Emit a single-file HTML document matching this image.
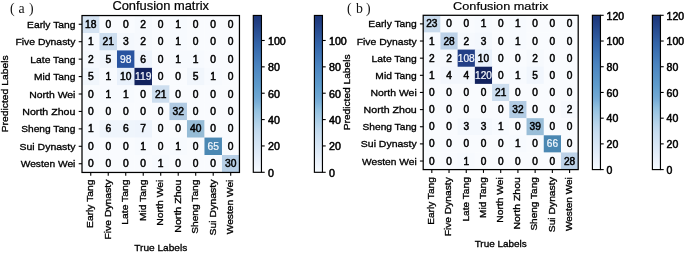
<!DOCTYPE html>
<html><head><meta charset="utf-8"><style>
html,body{margin:0;padding:0;background:#fff;width:685px;height:253px;overflow:hidden}
svg{display:block;filter:blur(0.25px)}
</style></head><body>
<svg width="685" height="253" viewBox="0 0 685 253" font-family="'Liberation Sans', sans-serif">
<defs>
<linearGradient id="cbg" x1="0" y1="0" x2="0" y2="1"><stop offset="0.0000" stop-color="#1d3679"/><stop offset="0.0250" stop-color="#1f3b7e"/><stop offset="0.0500" stop-color="#224084"/><stop offset="0.0750" stop-color="#25478b"/><stop offset="0.1000" stop-color="#284e92"/><stop offset="0.1250" stop-color="#2c5498"/><stop offset="0.1500" stop-color="#2f5b9f"/><stop offset="0.1750" stop-color="#3262a6"/><stop offset="0.2000" stop-color="#3568ab"/><stop offset="0.2250" stop-color="#3a6eb0"/><stop offset="0.2500" stop-color="#3e74b4"/><stop offset="0.2750" stop-color="#4279b8"/><stop offset="0.3000" stop-color="#477fbd"/><stop offset="0.3250" stop-color="#4b85c0"/><stop offset="0.3500" stop-color="#4f89c3"/><stop offset="0.3750" stop-color="#538ec5"/><stop offset="0.4000" stop-color="#5792c7"/><stop offset="0.4250" stop-color="#5a97c9"/><stop offset="0.4500" stop-color="#5e9bcc"/><stop offset="0.4750" stop-color="#64a0ce"/><stop offset="0.5000" stop-color="#6aa4d1"/><stop offset="0.5250" stop-color="#70a8d4"/><stop offset="0.5500" stop-color="#79aed7"/><stop offset="0.5750" stop-color="#85b7db"/><stop offset="0.6000" stop-color="#91c0df"/><stop offset="0.6250" stop-color="#9bc5e2"/><stop offset="0.6500" stop-color="#a4cae5"/><stop offset="0.6750" stop-color="#adcfe7"/><stop offset="0.7000" stop-color="#b6d4ea"/><stop offset="0.7250" stop-color="#bfd8ed"/><stop offset="0.7500" stop-color="#c5dcef"/><stop offset="0.7750" stop-color="#cbdff1"/><stop offset="0.8000" stop-color="#d0e2f3"/><stop offset="0.8250" stop-color="#d5e5f4"/><stop offset="0.8500" stop-color="#dae8f6"/><stop offset="0.8750" stop-color="#dfebf8"/><stop offset="0.9000" stop-color="#e4eef9"/><stop offset="0.9250" stop-color="#e9f1fb"/><stop offset="0.9500" stop-color="#eef4fc"/><stop offset="0.9750" stop-color="#f2f8fe"/><stop offset="1.0000" stop-color="#f7fbff"/></linearGradient>
</defs>
<rect width="685" height="253" fill="#fff"/>
<rect x="82.00" y="15.55" width="17.79" height="17.73" fill="#d5e3f2"/>
<rect x="99.49" y="15.55" width="17.79" height="17.73" fill="#f9fbfe"/>
<rect x="116.99" y="15.55" width="17.79" height="17.73" fill="#f9fbfe"/>
<rect x="134.48" y="15.55" width="17.79" height="17.73" fill="#f6f9fd"/>
<rect x="151.98" y="15.55" width="17.79" height="17.73" fill="#f9fbfe"/>
<rect x="169.47" y="15.55" width="17.79" height="17.73" fill="#f7fafe"/>
<rect x="186.97" y="15.55" width="17.79" height="17.73" fill="#f9fbfe"/>
<rect x="204.46" y="15.55" width="17.79" height="17.73" fill="#f9fbfe"/>
<rect x="221.96" y="15.55" width="17.79" height="17.73" fill="#f9fbfe"/>
<rect x="82.00" y="32.98" width="17.79" height="17.73" fill="#f7fafe"/>
<rect x="99.49" y="32.98" width="17.79" height="17.73" fill="#cddeef"/>
<rect x="116.99" y="32.98" width="17.79" height="17.73" fill="#f4f8fd"/>
<rect x="134.48" y="32.98" width="17.79" height="17.73" fill="#f6f9fd"/>
<rect x="151.98" y="32.98" width="17.79" height="17.73" fill="#f9fbfe"/>
<rect x="169.47" y="32.98" width="17.79" height="17.73" fill="#f7fafe"/>
<rect x="186.97" y="32.98" width="17.79" height="17.73" fill="#f9fbfe"/>
<rect x="204.46" y="32.98" width="17.79" height="17.73" fill="#f9fbfe"/>
<rect x="221.96" y="32.98" width="17.79" height="17.73" fill="#f9fbfe"/>
<rect x="82.00" y="50.42" width="17.79" height="17.73" fill="#f6f9fd"/>
<rect x="99.49" y="50.42" width="17.79" height="17.73" fill="#f1f6fc"/>
<rect x="116.99" y="50.42" width="17.79" height="17.73" fill="#2954a0"/>
<rect x="134.48" y="50.42" width="17.79" height="17.73" fill="#eff5fc"/>
<rect x="151.98" y="50.42" width="17.79" height="17.73" fill="#f9fbfe"/>
<rect x="169.47" y="50.42" width="17.79" height="17.73" fill="#f7fafe"/>
<rect x="186.97" y="50.42" width="17.79" height="17.73" fill="#f7fafe"/>
<rect x="204.46" y="50.42" width="17.79" height="17.73" fill="#f9fbfe"/>
<rect x="221.96" y="50.42" width="17.79" height="17.73" fill="#f9fbfe"/>
<rect x="82.00" y="67.85" width="17.79" height="17.73" fill="#f1f6fc"/>
<rect x="99.49" y="67.85" width="17.79" height="17.73" fill="#f7fafe"/>
<rect x="116.99" y="67.85" width="17.79" height="17.73" fill="#e9f1fb"/>
<rect x="134.48" y="67.85" width="17.79" height="17.73" fill="#13235e"/>
<rect x="151.98" y="67.85" width="17.79" height="17.73" fill="#f9fbfe"/>
<rect x="169.47" y="67.85" width="17.79" height="17.73" fill="#f9fbfe"/>
<rect x="186.97" y="67.85" width="17.79" height="17.73" fill="#f1f6fc"/>
<rect x="204.46" y="67.85" width="17.79" height="17.73" fill="#f7fafe"/>
<rect x="221.96" y="67.85" width="17.79" height="17.73" fill="#f9fbfe"/>
<rect x="82.00" y="85.28" width="17.79" height="17.73" fill="#f9fbfe"/>
<rect x="99.49" y="85.28" width="17.79" height="17.73" fill="#f7fafe"/>
<rect x="116.99" y="85.28" width="17.79" height="17.73" fill="#f7fafe"/>
<rect x="134.48" y="85.28" width="17.79" height="17.73" fill="#f9fbfe"/>
<rect x="151.98" y="85.28" width="17.79" height="17.73" fill="#cddeef"/>
<rect x="169.47" y="85.28" width="17.79" height="17.73" fill="#f9fbfe"/>
<rect x="186.97" y="85.28" width="17.79" height="17.73" fill="#f9fbfe"/>
<rect x="204.46" y="85.28" width="17.79" height="17.73" fill="#f9fbfe"/>
<rect x="221.96" y="85.28" width="17.79" height="17.73" fill="#f9fbfe"/>
<rect x="82.00" y="102.72" width="17.79" height="17.73" fill="#f9fbfe"/>
<rect x="99.49" y="102.72" width="17.79" height="17.73" fill="#f9fbfe"/>
<rect x="116.99" y="102.72" width="17.79" height="17.73" fill="#f9fbfe"/>
<rect x="134.48" y="102.72" width="17.79" height="17.73" fill="#f9fbfe"/>
<rect x="151.98" y="102.72" width="17.79" height="17.73" fill="#f9fbfe"/>
<rect x="169.47" y="102.72" width="17.79" height="17.73" fill="#b1cbe3"/>
<rect x="186.97" y="102.72" width="17.79" height="17.73" fill="#f9fbfe"/>
<rect x="204.46" y="102.72" width="17.79" height="17.73" fill="#f9fbfe"/>
<rect x="221.96" y="102.72" width="17.79" height="17.73" fill="#f9fbfe"/>
<rect x="82.00" y="120.15" width="17.79" height="17.73" fill="#f7fafe"/>
<rect x="99.49" y="120.15" width="17.79" height="17.73" fill="#eff5fc"/>
<rect x="116.99" y="120.15" width="17.79" height="17.73" fill="#eff5fc"/>
<rect x="134.48" y="120.15" width="17.79" height="17.73" fill="#eef4fc"/>
<rect x="151.98" y="120.15" width="17.79" height="17.73" fill="#f9fbfe"/>
<rect x="169.47" y="120.15" width="17.79" height="17.73" fill="#f9fbfe"/>
<rect x="186.97" y="120.15" width="17.79" height="17.73" fill="#96bcd6"/>
<rect x="204.46" y="120.15" width="17.79" height="17.73" fill="#f9fbfe"/>
<rect x="221.96" y="120.15" width="17.79" height="17.73" fill="#f9fbfe"/>
<rect x="82.00" y="137.58" width="17.79" height="17.73" fill="#f9fbfe"/>
<rect x="99.49" y="137.58" width="17.79" height="17.73" fill="#f9fbfe"/>
<rect x="116.99" y="137.58" width="17.79" height="17.73" fill="#f9fbfe"/>
<rect x="134.48" y="137.58" width="17.79" height="17.73" fill="#f7fafe"/>
<rect x="151.98" y="137.58" width="17.79" height="17.73" fill="#f9fbfe"/>
<rect x="169.47" y="137.58" width="17.79" height="17.73" fill="#f7fafe"/>
<rect x="186.97" y="137.58" width="17.79" height="17.73" fill="#f9fbfe"/>
<rect x="204.46" y="137.58" width="17.79" height="17.73" fill="#4b88b3"/>
<rect x="221.96" y="137.58" width="17.79" height="17.73" fill="#f9fbfe"/>
<rect x="82.00" y="155.02" width="17.79" height="17.73" fill="#f9fbfe"/>
<rect x="99.49" y="155.02" width="17.79" height="17.73" fill="#f9fbfe"/>
<rect x="116.99" y="155.02" width="17.79" height="17.73" fill="#f9fbfe"/>
<rect x="134.48" y="155.02" width="17.79" height="17.73" fill="#f9fbfe"/>
<rect x="151.98" y="155.02" width="17.79" height="17.73" fill="#f7fafe"/>
<rect x="169.47" y="155.02" width="17.79" height="17.73" fill="#f9fbfe"/>
<rect x="186.97" y="155.02" width="17.79" height="17.73" fill="#f9fbfe"/>
<rect x="204.46" y="155.02" width="17.79" height="17.73" fill="#f9fbfe"/>
<rect x="221.96" y="155.02" width="17.79" height="17.73" fill="#b7cfe6"/>
<text transform="translate(90.75,27.87)" font-size="10.29" text-anchor="middle" fill="#000" stroke="#000" stroke-width="0.500" >18</text>
<text transform="translate(108.24,27.87)" font-size="10.29" text-anchor="middle" fill="#000" stroke="#000" stroke-width="0.500" >0</text>
<text transform="translate(125.74,27.87)" font-size="10.29" text-anchor="middle" fill="#000" stroke="#000" stroke-width="0.500" >0</text>
<text transform="translate(143.23,27.87)" font-size="10.29" text-anchor="middle" fill="#000" stroke="#000" stroke-width="0.500" >2</text>
<text transform="translate(160.72,27.87)" font-size="10.29" text-anchor="middle" fill="#000" stroke="#000" stroke-width="0.500" >0</text>
<text transform="translate(178.22,27.87)" font-size="10.29" text-anchor="middle" fill="#000" stroke="#000" stroke-width="0.500" >1</text>
<text transform="translate(195.71,27.87)" font-size="10.29" text-anchor="middle" fill="#000" stroke="#000" stroke-width="0.500" >0</text>
<text transform="translate(213.21,27.87)" font-size="10.29" text-anchor="middle" fill="#000" stroke="#000" stroke-width="0.500" >0</text>
<text transform="translate(230.70,27.87)" font-size="10.29" text-anchor="middle" fill="#000" stroke="#000" stroke-width="0.500" >0</text>
<text transform="translate(90.75,45.30)" font-size="10.29" text-anchor="middle" fill="#000" stroke="#000" stroke-width="0.500" >1</text>
<text transform="translate(108.24,45.30)" font-size="10.29" text-anchor="middle" fill="#000" stroke="#000" stroke-width="0.500" >21</text>
<text transform="translate(125.74,45.30)" font-size="10.29" text-anchor="middle" fill="#000" stroke="#000" stroke-width="0.500" >3</text>
<text transform="translate(143.23,45.30)" font-size="10.29" text-anchor="middle" fill="#000" stroke="#000" stroke-width="0.500" >2</text>
<text transform="translate(160.72,45.30)" font-size="10.29" text-anchor="middle" fill="#000" stroke="#000" stroke-width="0.500" >0</text>
<text transform="translate(178.22,45.30)" font-size="10.29" text-anchor="middle" fill="#000" stroke="#000" stroke-width="0.500" >1</text>
<text transform="translate(195.71,45.30)" font-size="10.29" text-anchor="middle" fill="#000" stroke="#000" stroke-width="0.500" >0</text>
<text transform="translate(213.21,45.30)" font-size="10.29" text-anchor="middle" fill="#000" stroke="#000" stroke-width="0.500" >0</text>
<text transform="translate(230.70,45.30)" font-size="10.29" text-anchor="middle" fill="#000" stroke="#000" stroke-width="0.500" >0</text>
<text transform="translate(90.75,62.73)" font-size="10.29" text-anchor="middle" fill="#000" stroke="#000" stroke-width="0.500" >2</text>
<text transform="translate(108.24,62.73)" font-size="10.29" text-anchor="middle" fill="#000" stroke="#000" stroke-width="0.500" >5</text>
<text transform="translate(125.74,62.73)" font-size="10.29" text-anchor="middle" fill="#f4f8fd" stroke="#f4f8fd" stroke-width="0.220" >98</text>
<text transform="translate(143.23,62.73)" font-size="10.29" text-anchor="middle" fill="#000" stroke="#000" stroke-width="0.500" >6</text>
<text transform="translate(160.72,62.73)" font-size="10.29" text-anchor="middle" fill="#000" stroke="#000" stroke-width="0.500" >0</text>
<text transform="translate(178.22,62.73)" font-size="10.29" text-anchor="middle" fill="#000" stroke="#000" stroke-width="0.500" >1</text>
<text transform="translate(195.71,62.73)" font-size="10.29" text-anchor="middle" fill="#000" stroke="#000" stroke-width="0.500" >1</text>
<text transform="translate(213.21,62.73)" font-size="10.29" text-anchor="middle" fill="#000" stroke="#000" stroke-width="0.500" >0</text>
<text transform="translate(230.70,62.73)" font-size="10.29" text-anchor="middle" fill="#000" stroke="#000" stroke-width="0.500" >0</text>
<text transform="translate(90.75,80.17)" font-size="10.29" text-anchor="middle" fill="#000" stroke="#000" stroke-width="0.500" >5</text>
<text transform="translate(108.24,80.17)" font-size="10.29" text-anchor="middle" fill="#000" stroke="#000" stroke-width="0.500" >1</text>
<text transform="translate(125.74,80.17)" font-size="10.29" text-anchor="middle" fill="#000" stroke="#000" stroke-width="0.500" >10</text>
<text transform="translate(143.23,80.17)" font-size="10.29" text-anchor="middle" fill="#f4f8fd" stroke="#f4f8fd" stroke-width="0.220" >119</text>
<text transform="translate(160.72,80.17)" font-size="10.29" text-anchor="middle" fill="#000" stroke="#000" stroke-width="0.500" >0</text>
<text transform="translate(178.22,80.17)" font-size="10.29" text-anchor="middle" fill="#000" stroke="#000" stroke-width="0.500" >0</text>
<text transform="translate(195.71,80.17)" font-size="10.29" text-anchor="middle" fill="#000" stroke="#000" stroke-width="0.500" >5</text>
<text transform="translate(213.21,80.17)" font-size="10.29" text-anchor="middle" fill="#000" stroke="#000" stroke-width="0.500" >1</text>
<text transform="translate(230.70,80.17)" font-size="10.29" text-anchor="middle" fill="#000" stroke="#000" stroke-width="0.500" >0</text>
<text transform="translate(90.75,97.60)" font-size="10.29" text-anchor="middle" fill="#000" stroke="#000" stroke-width="0.500" >0</text>
<text transform="translate(108.24,97.60)" font-size="10.29" text-anchor="middle" fill="#000" stroke="#000" stroke-width="0.500" >1</text>
<text transform="translate(125.74,97.60)" font-size="10.29" text-anchor="middle" fill="#000" stroke="#000" stroke-width="0.500" >1</text>
<text transform="translate(143.23,97.60)" font-size="10.29" text-anchor="middle" fill="#000" stroke="#000" stroke-width="0.500" >0</text>
<text transform="translate(160.72,97.60)" font-size="10.29" text-anchor="middle" fill="#000" stroke="#000" stroke-width="0.500" >21</text>
<text transform="translate(178.22,97.60)" font-size="10.29" text-anchor="middle" fill="#000" stroke="#000" stroke-width="0.500" >0</text>
<text transform="translate(195.71,97.60)" font-size="10.29" text-anchor="middle" fill="#000" stroke="#000" stroke-width="0.500" >0</text>
<text transform="translate(213.21,97.60)" font-size="10.29" text-anchor="middle" fill="#000" stroke="#000" stroke-width="0.500" >0</text>
<text transform="translate(230.70,97.60)" font-size="10.29" text-anchor="middle" fill="#000" stroke="#000" stroke-width="0.500" >0</text>
<text transform="translate(90.75,115.03)" font-size="10.29" text-anchor="middle" fill="#000" stroke="#000" stroke-width="0.500" >0</text>
<text transform="translate(108.24,115.03)" font-size="10.29" text-anchor="middle" fill="#000" stroke="#000" stroke-width="0.500" >0</text>
<text transform="translate(125.74,115.03)" font-size="10.29" text-anchor="middle" fill="#000" stroke="#000" stroke-width="0.500" >0</text>
<text transform="translate(143.23,115.03)" font-size="10.29" text-anchor="middle" fill="#000" stroke="#000" stroke-width="0.500" >0</text>
<text transform="translate(160.72,115.03)" font-size="10.29" text-anchor="middle" fill="#000" stroke="#000" stroke-width="0.500" >0</text>
<text transform="translate(178.22,115.03)" font-size="10.29" text-anchor="middle" fill="#000" stroke="#000" stroke-width="0.500" >32</text>
<text transform="translate(195.71,115.03)" font-size="10.29" text-anchor="middle" fill="#000" stroke="#000" stroke-width="0.500" >0</text>
<text transform="translate(213.21,115.03)" font-size="10.29" text-anchor="middle" fill="#000" stroke="#000" stroke-width="0.500" >0</text>
<text transform="translate(230.70,115.03)" font-size="10.29" text-anchor="middle" fill="#000" stroke="#000" stroke-width="0.500" >0</text>
<text transform="translate(90.75,132.47)" font-size="10.29" text-anchor="middle" fill="#000" stroke="#000" stroke-width="0.500" >1</text>
<text transform="translate(108.24,132.47)" font-size="10.29" text-anchor="middle" fill="#000" stroke="#000" stroke-width="0.500" >6</text>
<text transform="translate(125.74,132.47)" font-size="10.29" text-anchor="middle" fill="#000" stroke="#000" stroke-width="0.500" >6</text>
<text transform="translate(143.23,132.47)" font-size="10.29" text-anchor="middle" fill="#000" stroke="#000" stroke-width="0.500" >7</text>
<text transform="translate(160.72,132.47)" font-size="10.29" text-anchor="middle" fill="#000" stroke="#000" stroke-width="0.500" >0</text>
<text transform="translate(178.22,132.47)" font-size="10.29" text-anchor="middle" fill="#000" stroke="#000" stroke-width="0.500" >0</text>
<text transform="translate(195.71,132.47)" font-size="10.29" text-anchor="middle" fill="#000" stroke="#000" stroke-width="0.500" >40</text>
<text transform="translate(213.21,132.47)" font-size="10.29" text-anchor="middle" fill="#000" stroke="#000" stroke-width="0.500" >0</text>
<text transform="translate(230.70,132.47)" font-size="10.29" text-anchor="middle" fill="#000" stroke="#000" stroke-width="0.500" >0</text>
<text transform="translate(90.75,149.90)" font-size="10.29" text-anchor="middle" fill="#000" stroke="#000" stroke-width="0.500" >0</text>
<text transform="translate(108.24,149.90)" font-size="10.29" text-anchor="middle" fill="#000" stroke="#000" stroke-width="0.500" >0</text>
<text transform="translate(125.74,149.90)" font-size="10.29" text-anchor="middle" fill="#000" stroke="#000" stroke-width="0.500" >0</text>
<text transform="translate(143.23,149.90)" font-size="10.29" text-anchor="middle" fill="#000" stroke="#000" stroke-width="0.500" >1</text>
<text transform="translate(160.72,149.90)" font-size="10.29" text-anchor="middle" fill="#000" stroke="#000" stroke-width="0.500" >0</text>
<text transform="translate(178.22,149.90)" font-size="10.29" text-anchor="middle" fill="#000" stroke="#000" stroke-width="0.500" >1</text>
<text transform="translate(195.71,149.90)" font-size="10.29" text-anchor="middle" fill="#000" stroke="#000" stroke-width="0.500" >0</text>
<text transform="translate(213.21,149.90)" font-size="10.29" text-anchor="middle" fill="#f4f8fd" stroke="#f4f8fd" stroke-width="0.220" >65</text>
<text transform="translate(230.70,149.90)" font-size="10.29" text-anchor="middle" fill="#000" stroke="#000" stroke-width="0.500" >0</text>
<text transform="translate(90.75,167.33)" font-size="10.29" text-anchor="middle" fill="#000" stroke="#000" stroke-width="0.500" >0</text>
<text transform="translate(108.24,167.33)" font-size="10.29" text-anchor="middle" fill="#000" stroke="#000" stroke-width="0.500" >0</text>
<text transform="translate(125.74,167.33)" font-size="10.29" text-anchor="middle" fill="#000" stroke="#000" stroke-width="0.500" >0</text>
<text transform="translate(143.23,167.33)" font-size="10.29" text-anchor="middle" fill="#000" stroke="#000" stroke-width="0.500" >0</text>
<text transform="translate(160.72,167.33)" font-size="10.29" text-anchor="middle" fill="#000" stroke="#000" stroke-width="0.500" >1</text>
<text transform="translate(178.22,167.33)" font-size="10.29" text-anchor="middle" fill="#000" stroke="#000" stroke-width="0.500" >0</text>
<text transform="translate(195.71,167.33)" font-size="10.29" text-anchor="middle" fill="#000" stroke="#000" stroke-width="0.500" >0</text>
<text transform="translate(213.21,167.33)" font-size="10.29" text-anchor="middle" fill="#000" stroke="#000" stroke-width="0.500" >0</text>
<text transform="translate(230.70,167.33)" font-size="10.29" text-anchor="middle" fill="#000" stroke="#000" stroke-width="0.500" >30</text>
<rect x="82.00" y="15.55" width="157.45" height="156.90" fill="none" stroke="#000" stroke-width="1.25"/>
<line x1="78.70" y1="24.27" x2="82.00" y2="24.27" stroke="#000" stroke-width="1.1"/>
<line x1="90.75" y1="172.45" x2="90.75" y2="175.75" stroke="#000" stroke-width="1.1"/>
<line x1="78.70" y1="41.70" x2="82.00" y2="41.70" stroke="#000" stroke-width="1.1"/>
<line x1="108.24" y1="172.45" x2="108.24" y2="175.75" stroke="#000" stroke-width="1.1"/>
<line x1="78.70" y1="59.13" x2="82.00" y2="59.13" stroke="#000" stroke-width="1.1"/>
<line x1="125.74" y1="172.45" x2="125.74" y2="175.75" stroke="#000" stroke-width="1.1"/>
<line x1="78.70" y1="76.57" x2="82.00" y2="76.57" stroke="#000" stroke-width="1.1"/>
<line x1="143.23" y1="172.45" x2="143.23" y2="175.75" stroke="#000" stroke-width="1.1"/>
<line x1="78.70" y1="94.00" x2="82.00" y2="94.00" stroke="#000" stroke-width="1.1"/>
<line x1="160.72" y1="172.45" x2="160.72" y2="175.75" stroke="#000" stroke-width="1.1"/>
<line x1="78.70" y1="111.43" x2="82.00" y2="111.43" stroke="#000" stroke-width="1.1"/>
<line x1="178.22" y1="172.45" x2="178.22" y2="175.75" stroke="#000" stroke-width="1.1"/>
<line x1="78.70" y1="128.87" x2="82.00" y2="128.87" stroke="#000" stroke-width="1.1"/>
<line x1="195.71" y1="172.45" x2="195.71" y2="175.75" stroke="#000" stroke-width="1.1"/>
<line x1="78.70" y1="146.30" x2="82.00" y2="146.30" stroke="#000" stroke-width="1.1"/>
<line x1="213.21" y1="172.45" x2="213.21" y2="175.75" stroke="#000" stroke-width="1.1"/>
<line x1="78.70" y1="163.73" x2="82.00" y2="163.73" stroke="#000" stroke-width="1.1"/>
<line x1="230.70" y1="172.45" x2="230.70" y2="175.75" stroke="#000" stroke-width="1.1"/>
<text transform="translate(75.40,27.82)" font-size="9.91" text-anchor="end" fill="#000" stroke="#000" stroke-width="0.320"  textLength="48.34" lengthAdjust="spacingAndGlyphs">Early Tang</text>
<text transform="translate(75.40,45.25)" font-size="9.91" text-anchor="end" fill="#000" stroke="#000" stroke-width="0.320"  textLength="60.01" lengthAdjust="spacingAndGlyphs">Five Dynasty</text>
<text transform="translate(75.40,62.68)" font-size="9.91" text-anchor="end" fill="#000" stroke="#000" stroke-width="0.320"  textLength="45.08" lengthAdjust="spacingAndGlyphs">Late Tang</text>
<text transform="translate(75.40,80.12)" font-size="9.91" text-anchor="end" fill="#000" stroke="#000" stroke-width="0.320"  textLength="41.33" lengthAdjust="spacingAndGlyphs">Mid Tang</text>
<text transform="translate(75.40,97.55)" font-size="9.91" text-anchor="end" fill="#000" stroke="#000" stroke-width="0.320"  textLength="46.17" lengthAdjust="spacingAndGlyphs">North Wei</text>
<text transform="translate(75.40,114.98)" font-size="9.91" text-anchor="end" fill="#000" stroke="#000" stroke-width="0.320"  textLength="53.10" lengthAdjust="spacingAndGlyphs">North Zhou</text>
<text transform="translate(75.40,132.42)" font-size="9.91" text-anchor="end" fill="#000" stroke="#000" stroke-width="0.320"  textLength="54.20" lengthAdjust="spacingAndGlyphs">Sheng Tang</text>
<text transform="translate(75.40,149.85)" font-size="9.91" text-anchor="end" fill="#000" stroke="#000" stroke-width="0.320"  textLength="55.89" lengthAdjust="spacingAndGlyphs">Sui Dynasty</text>
<text transform="translate(75.40,167.28)" font-size="9.91" text-anchor="end" fill="#000" stroke="#000" stroke-width="0.320"  textLength="54.69" lengthAdjust="spacingAndGlyphs">Westen Wei</text>
<text transform="translate(93.05,179.60) rotate(-90)" font-size="9.91" text-anchor="end" fill="#000" stroke="#000" stroke-width="0.320"  textLength="48.34" lengthAdjust="spacingAndGlyphs">Early Tang</text>
<text transform="translate(110.54,179.60) rotate(-90)" font-size="9.91" text-anchor="end" fill="#000" stroke="#000" stroke-width="0.320"  textLength="60.01" lengthAdjust="spacingAndGlyphs">Five Dynasty</text>
<text transform="translate(128.04,179.60) rotate(-90)" font-size="9.91" text-anchor="end" fill="#000" stroke="#000" stroke-width="0.320"  textLength="45.08" lengthAdjust="spacingAndGlyphs">Late Tang</text>
<text transform="translate(145.53,179.60) rotate(-90)" font-size="9.91" text-anchor="end" fill="#000" stroke="#000" stroke-width="0.320"  textLength="41.33" lengthAdjust="spacingAndGlyphs">Mid Tang</text>
<text transform="translate(163.03,179.60) rotate(-90)" font-size="9.91" text-anchor="end" fill="#000" stroke="#000" stroke-width="0.320"  textLength="46.17" lengthAdjust="spacingAndGlyphs">North Wei</text>
<text transform="translate(180.52,179.60) rotate(-90)" font-size="9.91" text-anchor="end" fill="#000" stroke="#000" stroke-width="0.320"  textLength="53.10" lengthAdjust="spacingAndGlyphs">North Zhou</text>
<text transform="translate(198.01,179.60) rotate(-90)" font-size="9.91" text-anchor="end" fill="#000" stroke="#000" stroke-width="0.320"  textLength="54.20" lengthAdjust="spacingAndGlyphs">Sheng Tang</text>
<text transform="translate(215.51,179.60) rotate(-90)" font-size="9.91" text-anchor="end" fill="#000" stroke="#000" stroke-width="0.320"  textLength="55.89" lengthAdjust="spacingAndGlyphs">Sui Dynasty</text>
<text transform="translate(233.00,179.60) rotate(-90)" font-size="9.91" text-anchor="end" fill="#000" stroke="#000" stroke-width="0.320"  textLength="54.69" lengthAdjust="spacingAndGlyphs">Westen Wei</text>
<text transform="translate(160.72,9.90)" font-size="11.98" text-anchor="middle" fill="#000" stroke="#000" stroke-width="0.200"  textLength="96.64" lengthAdjust="spacingAndGlyphs">Confusion matrix</text>
<text transform="translate(160.72,250.60)" font-size="9.91" text-anchor="middle" fill="#000" stroke="#000" stroke-width="0.320"  textLength="52.93" lengthAdjust="spacingAndGlyphs">True Labels</text>
<text transform="translate(8.40,93.90) rotate(-90)" font-size="9.91" text-anchor="middle" fill="#000" stroke="#000" stroke-width="0.320"  textLength="76.96" lengthAdjust="spacingAndGlyphs">Predicted Labels</text>
<text x="9.90" y="13.00" font-family="'Liberation Serif', serif" font-size="13.80" fill="#111">(</text>
<text x="18.50" y="13.00" font-family="'Liberation Serif', serif" font-size="13.80" fill="#111">a</text>
<text x="28.90" y="13.00" font-family="'Liberation Serif', serif" font-size="13.80" fill="#111">)</text>
<rect x="253.30" y="15.45" width="8.15" height="156.85" fill="url(#cbg)" stroke="#000" stroke-width="1.15"/>
<line x1="261.45" y1="172.30" x2="264.70" y2="172.30" stroke="#000" stroke-width="1.1"/>
<text transform="translate(267.95,176.60)" font-size="10.29" text-anchor="start" fill="#000" stroke="#000" stroke-width="0.500"  textLength="5.95" lengthAdjust="spacingAndGlyphs">0</text>
<line x1="261.45" y1="145.94" x2="264.70" y2="145.94" stroke="#000" stroke-width="1.1"/>
<text transform="translate(267.95,150.24)" font-size="10.29" text-anchor="start" fill="#000" stroke="#000" stroke-width="0.500"  textLength="11.90" lengthAdjust="spacingAndGlyphs">20</text>
<line x1="261.45" y1="119.58" x2="264.70" y2="119.58" stroke="#000" stroke-width="1.1"/>
<text transform="translate(267.95,123.88)" font-size="10.29" text-anchor="start" fill="#000" stroke="#000" stroke-width="0.500"  textLength="11.90" lengthAdjust="spacingAndGlyphs">40</text>
<line x1="261.45" y1="93.22" x2="264.70" y2="93.22" stroke="#000" stroke-width="1.1"/>
<text transform="translate(267.95,97.52)" font-size="10.29" text-anchor="start" fill="#000" stroke="#000" stroke-width="0.500"  textLength="11.90" lengthAdjust="spacingAndGlyphs">60</text>
<line x1="261.45" y1="66.85" x2="264.70" y2="66.85" stroke="#000" stroke-width="1.1"/>
<text transform="translate(267.95,71.15)" font-size="10.29" text-anchor="start" fill="#000" stroke="#000" stroke-width="0.500"  textLength="11.90" lengthAdjust="spacingAndGlyphs">80</text>
<line x1="261.45" y1="40.49" x2="264.70" y2="40.49" stroke="#000" stroke-width="1.1"/>
<text transform="translate(267.95,44.79)" font-size="10.29" text-anchor="start" fill="#000" stroke="#000" stroke-width="0.500"  textLength="17.85" lengthAdjust="spacingAndGlyphs">100</text>
<rect x="314.40" y="15.45" width="8.05" height="156.85" fill="url(#cbg)" stroke="#000" stroke-width="1.15"/>
<line x1="322.45" y1="172.30" x2="325.70" y2="172.30" stroke="#000" stroke-width="1.1"/>
<text transform="translate(328.95,176.60)" font-size="10.29" text-anchor="start" fill="#000" stroke="#000" stroke-width="0.500"  textLength="5.95" lengthAdjust="spacingAndGlyphs">0</text>
<line x1="322.45" y1="145.94" x2="325.70" y2="145.94" stroke="#000" stroke-width="1.1"/>
<text transform="translate(328.95,150.24)" font-size="10.29" text-anchor="start" fill="#000" stroke="#000" stroke-width="0.500"  textLength="11.90" lengthAdjust="spacingAndGlyphs">20</text>
<line x1="322.45" y1="119.58" x2="325.70" y2="119.58" stroke="#000" stroke-width="1.1"/>
<text transform="translate(328.95,123.88)" font-size="10.29" text-anchor="start" fill="#000" stroke="#000" stroke-width="0.500"  textLength="11.90" lengthAdjust="spacingAndGlyphs">40</text>
<line x1="322.45" y1="93.22" x2="325.70" y2="93.22" stroke="#000" stroke-width="1.1"/>
<text transform="translate(328.95,97.52)" font-size="10.29" text-anchor="start" fill="#000" stroke="#000" stroke-width="0.500"  textLength="11.90" lengthAdjust="spacingAndGlyphs">60</text>
<line x1="322.45" y1="66.85" x2="325.70" y2="66.85" stroke="#000" stroke-width="1.1"/>
<text transform="translate(328.95,71.15)" font-size="10.29" text-anchor="start" fill="#000" stroke="#000" stroke-width="0.500"  textLength="11.90" lengthAdjust="spacingAndGlyphs">80</text>
<line x1="322.45" y1="40.49" x2="325.70" y2="40.49" stroke="#000" stroke-width="1.1"/>
<text transform="translate(328.95,44.79)" font-size="10.29" text-anchor="start" fill="#000" stroke="#000" stroke-width="0.500"  textLength="17.85" lengthAdjust="spacingAndGlyphs">100</text>
<rect x="423.20" y="15.30" width="17.52" height="17.44" fill="#c9dbed"/>
<rect x="440.42" y="15.30" width="17.52" height="17.44" fill="#f9fbfe"/>
<rect x="457.64" y="15.30" width="17.52" height="17.44" fill="#f9fbfe"/>
<rect x="474.87" y="15.30" width="17.52" height="17.44" fill="#f7fafe"/>
<rect x="492.09" y="15.30" width="17.52" height="17.44" fill="#f9fbfe"/>
<rect x="509.31" y="15.30" width="17.52" height="17.44" fill="#f7fafe"/>
<rect x="526.53" y="15.30" width="17.52" height="17.44" fill="#f9fbfe"/>
<rect x="543.76" y="15.30" width="17.52" height="17.44" fill="#f9fbfe"/>
<rect x="560.98" y="15.30" width="17.52" height="17.44" fill="#f9fbfe"/>
<rect x="423.20" y="32.44" width="17.52" height="17.44" fill="#f7fafe"/>
<rect x="440.42" y="32.44" width="17.52" height="17.44" fill="#bdd2e8"/>
<rect x="457.64" y="32.44" width="17.52" height="17.44" fill="#f6f9fd"/>
<rect x="474.87" y="32.44" width="17.52" height="17.44" fill="#f4f8fd"/>
<rect x="492.09" y="32.44" width="17.52" height="17.44" fill="#f9fbfe"/>
<rect x="509.31" y="32.44" width="17.52" height="17.44" fill="#f7fafe"/>
<rect x="526.53" y="32.44" width="17.52" height="17.44" fill="#f9fbfe"/>
<rect x="543.76" y="32.44" width="17.52" height="17.44" fill="#f9fbfe"/>
<rect x="560.98" y="32.44" width="17.52" height="17.44" fill="#f9fbfe"/>
<rect x="423.20" y="49.59" width="17.52" height="17.44" fill="#f6f9fd"/>
<rect x="440.42" y="49.59" width="17.52" height="17.44" fill="#f6f9fd"/>
<rect x="457.64" y="49.59" width="17.52" height="17.44" fill="#223f86"/>
<rect x="474.87" y="49.59" width="17.52" height="17.44" fill="#e9f1fb"/>
<rect x="492.09" y="49.59" width="17.52" height="17.44" fill="#f9fbfe"/>
<rect x="509.31" y="49.59" width="17.52" height="17.44" fill="#f9fbfe"/>
<rect x="526.53" y="49.59" width="17.52" height="17.44" fill="#f6f9fd"/>
<rect x="543.76" y="49.59" width="17.52" height="17.44" fill="#f9fbfe"/>
<rect x="560.98" y="49.59" width="17.52" height="17.44" fill="#f9fbfe"/>
<rect x="423.20" y="66.73" width="17.52" height="17.44" fill="#f7fafe"/>
<rect x="440.42" y="66.73" width="17.52" height="17.44" fill="#f3f7fd"/>
<rect x="457.64" y="66.73" width="17.52" height="17.44" fill="#f3f7fd"/>
<rect x="474.87" y="66.73" width="17.52" height="17.44" fill="#13235e"/>
<rect x="492.09" y="66.73" width="17.52" height="17.44" fill="#f9fbfe"/>
<rect x="509.31" y="66.73" width="17.52" height="17.44" fill="#f7fafe"/>
<rect x="526.53" y="66.73" width="17.52" height="17.44" fill="#f1f6fd"/>
<rect x="543.76" y="66.73" width="17.52" height="17.44" fill="#f9fbfe"/>
<rect x="560.98" y="66.73" width="17.52" height="17.44" fill="#f9fbfe"/>
<rect x="423.20" y="83.88" width="17.52" height="17.44" fill="#f9fbfe"/>
<rect x="440.42" y="83.88" width="17.52" height="17.44" fill="#f9fbfe"/>
<rect x="457.64" y="83.88" width="17.52" height="17.44" fill="#f9fbfe"/>
<rect x="474.87" y="83.88" width="17.52" height="17.44" fill="#f9fbfe"/>
<rect x="492.09" y="83.88" width="17.52" height="17.44" fill="#cddeef"/>
<rect x="509.31" y="83.88" width="17.52" height="17.44" fill="#f9fbfe"/>
<rect x="526.53" y="83.88" width="17.52" height="17.44" fill="#f9fbfe"/>
<rect x="543.76" y="83.88" width="17.52" height="17.44" fill="#f9fbfe"/>
<rect x="560.98" y="83.88" width="17.52" height="17.44" fill="#f9fbfe"/>
<rect x="423.20" y="101.02" width="17.52" height="17.44" fill="#f9fbfe"/>
<rect x="440.42" y="101.02" width="17.52" height="17.44" fill="#f9fbfe"/>
<rect x="457.64" y="101.02" width="17.52" height="17.44" fill="#f9fbfe"/>
<rect x="474.87" y="101.02" width="17.52" height="17.44" fill="#f9fbfe"/>
<rect x="492.09" y="101.02" width="17.52" height="17.44" fill="#f9fbfe"/>
<rect x="509.31" y="101.02" width="17.52" height="17.44" fill="#b2cce4"/>
<rect x="526.53" y="101.02" width="17.52" height="17.44" fill="#f9fbfe"/>
<rect x="543.76" y="101.02" width="17.52" height="17.44" fill="#f9fbfe"/>
<rect x="560.98" y="101.02" width="17.52" height="17.44" fill="#f6f9fd"/>
<rect x="423.20" y="118.17" width="17.52" height="17.44" fill="#f9fbfe"/>
<rect x="440.42" y="118.17" width="17.52" height="17.44" fill="#f9fbfe"/>
<rect x="457.64" y="118.17" width="17.52" height="17.44" fill="#f4f8fd"/>
<rect x="474.87" y="118.17" width="17.52" height="17.44" fill="#f4f8fd"/>
<rect x="492.09" y="118.17" width="17.52" height="17.44" fill="#f7fafe"/>
<rect x="509.31" y="118.17" width="17.52" height="17.44" fill="#f9fbfe"/>
<rect x="526.53" y="118.17" width="17.52" height="17.44" fill="#9abed8"/>
<rect x="543.76" y="118.17" width="17.52" height="17.44" fill="#f9fbfe"/>
<rect x="560.98" y="118.17" width="17.52" height="17.44" fill="#f9fbfe"/>
<rect x="423.20" y="135.31" width="17.52" height="17.44" fill="#f9fbfe"/>
<rect x="440.42" y="135.31" width="17.52" height="17.44" fill="#f9fbfe"/>
<rect x="457.64" y="135.31" width="17.52" height="17.44" fill="#f9fbfe"/>
<rect x="474.87" y="135.31" width="17.52" height="17.44" fill="#f9fbfe"/>
<rect x="492.09" y="135.31" width="17.52" height="17.44" fill="#f9fbfe"/>
<rect x="509.31" y="135.31" width="17.52" height="17.44" fill="#f7fafe"/>
<rect x="526.53" y="135.31" width="17.52" height="17.44" fill="#f9fbfe"/>
<rect x="543.76" y="135.31" width="17.52" height="17.44" fill="#4a87b2"/>
<rect x="560.98" y="135.31" width="17.52" height="17.44" fill="#f9fbfe"/>
<rect x="423.20" y="152.46" width="17.52" height="17.44" fill="#f9fbfe"/>
<rect x="440.42" y="152.46" width="17.52" height="17.44" fill="#f9fbfe"/>
<rect x="457.64" y="152.46" width="17.52" height="17.44" fill="#f7fafe"/>
<rect x="474.87" y="152.46" width="17.52" height="17.44" fill="#f9fbfe"/>
<rect x="492.09" y="152.46" width="17.52" height="17.44" fill="#f9fbfe"/>
<rect x="509.31" y="152.46" width="17.52" height="17.44" fill="#f9fbfe"/>
<rect x="526.53" y="152.46" width="17.52" height="17.44" fill="#f9fbfe"/>
<rect x="543.76" y="152.46" width="17.52" height="17.44" fill="#f9fbfe"/>
<rect x="560.98" y="152.46" width="17.52" height="17.44" fill="#bdd2e8"/>
<text transform="translate(431.81,27.42)" font-size="10.13" text-anchor="middle" fill="#000" stroke="#000" stroke-width="0.500" >23</text>
<text transform="translate(449.03,27.42)" font-size="10.13" text-anchor="middle" fill="#000" stroke="#000" stroke-width="0.500" >0</text>
<text transform="translate(466.26,27.42)" font-size="10.13" text-anchor="middle" fill="#000" stroke="#000" stroke-width="0.500" >0</text>
<text transform="translate(483.48,27.42)" font-size="10.13" text-anchor="middle" fill="#000" stroke="#000" stroke-width="0.500" >1</text>
<text transform="translate(500.70,27.42)" font-size="10.13" text-anchor="middle" fill="#000" stroke="#000" stroke-width="0.500" >0</text>
<text transform="translate(517.92,27.42)" font-size="10.13" text-anchor="middle" fill="#000" stroke="#000" stroke-width="0.500" >1</text>
<text transform="translate(535.14,27.42)" font-size="10.13" text-anchor="middle" fill="#000" stroke="#000" stroke-width="0.500" >0</text>
<text transform="translate(552.37,27.42)" font-size="10.13" text-anchor="middle" fill="#000" stroke="#000" stroke-width="0.500" >0</text>
<text transform="translate(569.59,27.42)" font-size="10.13" text-anchor="middle" fill="#000" stroke="#000" stroke-width="0.500" >0</text>
<text transform="translate(431.81,44.56)" font-size="10.13" text-anchor="middle" fill="#000" stroke="#000" stroke-width="0.500" >1</text>
<text transform="translate(449.03,44.56)" font-size="10.13" text-anchor="middle" fill="#000" stroke="#000" stroke-width="0.500" >28</text>
<text transform="translate(466.26,44.56)" font-size="10.13" text-anchor="middle" fill="#000" stroke="#000" stroke-width="0.500" >2</text>
<text transform="translate(483.48,44.56)" font-size="10.13" text-anchor="middle" fill="#000" stroke="#000" stroke-width="0.500" >3</text>
<text transform="translate(500.70,44.56)" font-size="10.13" text-anchor="middle" fill="#000" stroke="#000" stroke-width="0.500" >0</text>
<text transform="translate(517.92,44.56)" font-size="10.13" text-anchor="middle" fill="#000" stroke="#000" stroke-width="0.500" >1</text>
<text transform="translate(535.14,44.56)" font-size="10.13" text-anchor="middle" fill="#000" stroke="#000" stroke-width="0.500" >0</text>
<text transform="translate(552.37,44.56)" font-size="10.13" text-anchor="middle" fill="#000" stroke="#000" stroke-width="0.500" >0</text>
<text transform="translate(569.59,44.56)" font-size="10.13" text-anchor="middle" fill="#000" stroke="#000" stroke-width="0.500" >0</text>
<text transform="translate(431.81,61.71)" font-size="10.13" text-anchor="middle" fill="#000" stroke="#000" stroke-width="0.500" >2</text>
<text transform="translate(449.03,61.71)" font-size="10.13" text-anchor="middle" fill="#000" stroke="#000" stroke-width="0.500" >2</text>
<text transform="translate(466.26,61.71)" font-size="10.13" text-anchor="middle" fill="#f4f8fd" stroke="#f4f8fd" stroke-width="0.220" >108</text>
<text transform="translate(483.48,61.71)" font-size="10.13" text-anchor="middle" fill="#000" stroke="#000" stroke-width="0.500" >10</text>
<text transform="translate(500.70,61.71)" font-size="10.13" text-anchor="middle" fill="#000" stroke="#000" stroke-width="0.500" >0</text>
<text transform="translate(517.92,61.71)" font-size="10.13" text-anchor="middle" fill="#000" stroke="#000" stroke-width="0.500" >0</text>
<text transform="translate(535.14,61.71)" font-size="10.13" text-anchor="middle" fill="#000" stroke="#000" stroke-width="0.500" >2</text>
<text transform="translate(552.37,61.71)" font-size="10.13" text-anchor="middle" fill="#000" stroke="#000" stroke-width="0.500" >0</text>
<text transform="translate(569.59,61.71)" font-size="10.13" text-anchor="middle" fill="#000" stroke="#000" stroke-width="0.500" >0</text>
<text transform="translate(431.81,78.85)" font-size="10.13" text-anchor="middle" fill="#000" stroke="#000" stroke-width="0.500" >1</text>
<text transform="translate(449.03,78.85)" font-size="10.13" text-anchor="middle" fill="#000" stroke="#000" stroke-width="0.500" >4</text>
<text transform="translate(466.26,78.85)" font-size="10.13" text-anchor="middle" fill="#000" stroke="#000" stroke-width="0.500" >4</text>
<text transform="translate(483.48,78.85)" font-size="10.13" text-anchor="middle" fill="#f4f8fd" stroke="#f4f8fd" stroke-width="0.220" >120</text>
<text transform="translate(500.70,78.85)" font-size="10.13" text-anchor="middle" fill="#000" stroke="#000" stroke-width="0.500" >0</text>
<text transform="translate(517.92,78.85)" font-size="10.13" text-anchor="middle" fill="#000" stroke="#000" stroke-width="0.500" >1</text>
<text transform="translate(535.14,78.85)" font-size="10.13" text-anchor="middle" fill="#000" stroke="#000" stroke-width="0.500" >5</text>
<text transform="translate(552.37,78.85)" font-size="10.13" text-anchor="middle" fill="#000" stroke="#000" stroke-width="0.500" >0</text>
<text transform="translate(569.59,78.85)" font-size="10.13" text-anchor="middle" fill="#000" stroke="#000" stroke-width="0.500" >0</text>
<text transform="translate(431.81,96.00)" font-size="10.13" text-anchor="middle" fill="#000" stroke="#000" stroke-width="0.500" >0</text>
<text transform="translate(449.03,96.00)" font-size="10.13" text-anchor="middle" fill="#000" stroke="#000" stroke-width="0.500" >0</text>
<text transform="translate(466.26,96.00)" font-size="10.13" text-anchor="middle" fill="#000" stroke="#000" stroke-width="0.500" >0</text>
<text transform="translate(483.48,96.00)" font-size="10.13" text-anchor="middle" fill="#000" stroke="#000" stroke-width="0.500" >0</text>
<text transform="translate(500.70,96.00)" font-size="10.13" text-anchor="middle" fill="#000" stroke="#000" stroke-width="0.500" >21</text>
<text transform="translate(517.92,96.00)" font-size="10.13" text-anchor="middle" fill="#000" stroke="#000" stroke-width="0.500" >0</text>
<text transform="translate(535.14,96.00)" font-size="10.13" text-anchor="middle" fill="#000" stroke="#000" stroke-width="0.500" >0</text>
<text transform="translate(552.37,96.00)" font-size="10.13" text-anchor="middle" fill="#000" stroke="#000" stroke-width="0.500" >0</text>
<text transform="translate(569.59,96.00)" font-size="10.13" text-anchor="middle" fill="#000" stroke="#000" stroke-width="0.500" >0</text>
<text transform="translate(431.81,113.14)" font-size="10.13" text-anchor="middle" fill="#000" stroke="#000" stroke-width="0.500" >0</text>
<text transform="translate(449.03,113.14)" font-size="10.13" text-anchor="middle" fill="#000" stroke="#000" stroke-width="0.500" >0</text>
<text transform="translate(466.26,113.14)" font-size="10.13" text-anchor="middle" fill="#000" stroke="#000" stroke-width="0.500" >0</text>
<text transform="translate(483.48,113.14)" font-size="10.13" text-anchor="middle" fill="#000" stroke="#000" stroke-width="0.500" >0</text>
<text transform="translate(500.70,113.14)" font-size="10.13" text-anchor="middle" fill="#000" stroke="#000" stroke-width="0.500" >0</text>
<text transform="translate(517.92,113.14)" font-size="10.13" text-anchor="middle" fill="#000" stroke="#000" stroke-width="0.500" >32</text>
<text transform="translate(535.14,113.14)" font-size="10.13" text-anchor="middle" fill="#000" stroke="#000" stroke-width="0.500" >0</text>
<text transform="translate(552.37,113.14)" font-size="10.13" text-anchor="middle" fill="#000" stroke="#000" stroke-width="0.500" >0</text>
<text transform="translate(569.59,113.14)" font-size="10.13" text-anchor="middle" fill="#000" stroke="#000" stroke-width="0.500" >2</text>
<text transform="translate(431.81,130.28)" font-size="10.13" text-anchor="middle" fill="#000" stroke="#000" stroke-width="0.500" >0</text>
<text transform="translate(449.03,130.28)" font-size="10.13" text-anchor="middle" fill="#000" stroke="#000" stroke-width="0.500" >0</text>
<text transform="translate(466.26,130.28)" font-size="10.13" text-anchor="middle" fill="#000" stroke="#000" stroke-width="0.500" >3</text>
<text transform="translate(483.48,130.28)" font-size="10.13" text-anchor="middle" fill="#000" stroke="#000" stroke-width="0.500" >3</text>
<text transform="translate(500.70,130.28)" font-size="10.13" text-anchor="middle" fill="#000" stroke="#000" stroke-width="0.500" >1</text>
<text transform="translate(517.92,130.28)" font-size="10.13" text-anchor="middle" fill="#000" stroke="#000" stroke-width="0.500" >0</text>
<text transform="translate(535.14,130.28)" font-size="10.13" text-anchor="middle" fill="#000" stroke="#000" stroke-width="0.500" >39</text>
<text transform="translate(552.37,130.28)" font-size="10.13" text-anchor="middle" fill="#000" stroke="#000" stroke-width="0.500" >0</text>
<text transform="translate(569.59,130.28)" font-size="10.13" text-anchor="middle" fill="#000" stroke="#000" stroke-width="0.500" >0</text>
<text transform="translate(431.81,147.43)" font-size="10.13" text-anchor="middle" fill="#000" stroke="#000" stroke-width="0.500" >0</text>
<text transform="translate(449.03,147.43)" font-size="10.13" text-anchor="middle" fill="#000" stroke="#000" stroke-width="0.500" >0</text>
<text transform="translate(466.26,147.43)" font-size="10.13" text-anchor="middle" fill="#000" stroke="#000" stroke-width="0.500" >0</text>
<text transform="translate(483.48,147.43)" font-size="10.13" text-anchor="middle" fill="#000" stroke="#000" stroke-width="0.500" >0</text>
<text transform="translate(500.70,147.43)" font-size="10.13" text-anchor="middle" fill="#000" stroke="#000" stroke-width="0.500" >0</text>
<text transform="translate(517.92,147.43)" font-size="10.13" text-anchor="middle" fill="#000" stroke="#000" stroke-width="0.500" >1</text>
<text transform="translate(535.14,147.43)" font-size="10.13" text-anchor="middle" fill="#000" stroke="#000" stroke-width="0.500" >0</text>
<text transform="translate(552.37,147.43)" font-size="10.13" text-anchor="middle" fill="#f4f8fd" stroke="#f4f8fd" stroke-width="0.220" >66</text>
<text transform="translate(569.59,147.43)" font-size="10.13" text-anchor="middle" fill="#000" stroke="#000" stroke-width="0.500" >0</text>
<text transform="translate(431.81,164.57)" font-size="10.13" text-anchor="middle" fill="#000" stroke="#000" stroke-width="0.500" >0</text>
<text transform="translate(449.03,164.57)" font-size="10.13" text-anchor="middle" fill="#000" stroke="#000" stroke-width="0.500" >0</text>
<text transform="translate(466.26,164.57)" font-size="10.13" text-anchor="middle" fill="#000" stroke="#000" stroke-width="0.500" >1</text>
<text transform="translate(483.48,164.57)" font-size="10.13" text-anchor="middle" fill="#000" stroke="#000" stroke-width="0.500" >0</text>
<text transform="translate(500.70,164.57)" font-size="10.13" text-anchor="middle" fill="#000" stroke="#000" stroke-width="0.500" >0</text>
<text transform="translate(517.92,164.57)" font-size="10.13" text-anchor="middle" fill="#000" stroke="#000" stroke-width="0.500" >0</text>
<text transform="translate(535.14,164.57)" font-size="10.13" text-anchor="middle" fill="#000" stroke="#000" stroke-width="0.500" >0</text>
<text transform="translate(552.37,164.57)" font-size="10.13" text-anchor="middle" fill="#000" stroke="#000" stroke-width="0.500" >0</text>
<text transform="translate(569.59,164.57)" font-size="10.13" text-anchor="middle" fill="#000" stroke="#000" stroke-width="0.500" >28</text>
<rect x="423.20" y="15.30" width="155.00" height="154.30" fill="none" stroke="#000" stroke-width="1.25"/>
<line x1="419.90" y1="23.87" x2="423.20" y2="23.87" stroke="#000" stroke-width="1.1"/>
<line x1="431.81" y1="169.60" x2="431.81" y2="172.90" stroke="#000" stroke-width="1.1"/>
<line x1="419.90" y1="41.02" x2="423.20" y2="41.02" stroke="#000" stroke-width="1.1"/>
<line x1="449.03" y1="169.60" x2="449.03" y2="172.90" stroke="#000" stroke-width="1.1"/>
<line x1="419.90" y1="58.16" x2="423.20" y2="58.16" stroke="#000" stroke-width="1.1"/>
<line x1="466.26" y1="169.60" x2="466.26" y2="172.90" stroke="#000" stroke-width="1.1"/>
<line x1="419.90" y1="75.31" x2="423.20" y2="75.31" stroke="#000" stroke-width="1.1"/>
<line x1="483.48" y1="169.60" x2="483.48" y2="172.90" stroke="#000" stroke-width="1.1"/>
<line x1="419.90" y1="92.45" x2="423.20" y2="92.45" stroke="#000" stroke-width="1.1"/>
<line x1="500.70" y1="169.60" x2="500.70" y2="172.90" stroke="#000" stroke-width="1.1"/>
<line x1="419.90" y1="109.59" x2="423.20" y2="109.59" stroke="#000" stroke-width="1.1"/>
<line x1="517.92" y1="169.60" x2="517.92" y2="172.90" stroke="#000" stroke-width="1.1"/>
<line x1="419.90" y1="126.74" x2="423.20" y2="126.74" stroke="#000" stroke-width="1.1"/>
<line x1="535.14" y1="169.60" x2="535.14" y2="172.90" stroke="#000" stroke-width="1.1"/>
<line x1="419.90" y1="143.88" x2="423.20" y2="143.88" stroke="#000" stroke-width="1.1"/>
<line x1="552.37" y1="169.60" x2="552.37" y2="172.90" stroke="#000" stroke-width="1.1"/>
<line x1="419.90" y1="161.03" x2="423.20" y2="161.03" stroke="#000" stroke-width="1.1"/>
<line x1="569.59" y1="169.60" x2="569.59" y2="172.90" stroke="#000" stroke-width="1.1"/>
<text transform="translate(416.70,27.37)" font-size="9.91" text-anchor="end" fill="#000" stroke="#000" stroke-width="0.320"  textLength="48.34" lengthAdjust="spacingAndGlyphs">Early Tang</text>
<text transform="translate(416.70,44.51)" font-size="9.91" text-anchor="end" fill="#000" stroke="#000" stroke-width="0.320"  textLength="60.01" lengthAdjust="spacingAndGlyphs">Five Dynasty</text>
<text transform="translate(416.70,61.66)" font-size="9.91" text-anchor="end" fill="#000" stroke="#000" stroke-width="0.320"  textLength="45.08" lengthAdjust="spacingAndGlyphs">Late Tang</text>
<text transform="translate(416.70,78.80)" font-size="9.91" text-anchor="end" fill="#000" stroke="#000" stroke-width="0.320"  textLength="41.33" lengthAdjust="spacingAndGlyphs">Mid Tang</text>
<text transform="translate(416.70,95.95)" font-size="9.91" text-anchor="end" fill="#000" stroke="#000" stroke-width="0.320"  textLength="46.17" lengthAdjust="spacingAndGlyphs">North Wei</text>
<text transform="translate(416.70,113.09)" font-size="9.91" text-anchor="end" fill="#000" stroke="#000" stroke-width="0.320"  textLength="53.10" lengthAdjust="spacingAndGlyphs">North Zhou</text>
<text transform="translate(416.70,130.24)" font-size="9.91" text-anchor="end" fill="#000" stroke="#000" stroke-width="0.320"  textLength="54.20" lengthAdjust="spacingAndGlyphs">Sheng Tang</text>
<text transform="translate(416.70,147.38)" font-size="9.91" text-anchor="end" fill="#000" stroke="#000" stroke-width="0.320"  textLength="55.89" lengthAdjust="spacingAndGlyphs">Sui Dynasty</text>
<text transform="translate(416.70,164.52)" font-size="9.91" text-anchor="end" fill="#000" stroke="#000" stroke-width="0.320"  textLength="54.69" lengthAdjust="spacingAndGlyphs">Westen Wei</text>
<text transform="translate(434.08,177.20) rotate(-90)" font-size="9.76" text-anchor="end" fill="#000" stroke="#000" stroke-width="0.320"  textLength="47.62" lengthAdjust="spacingAndGlyphs">Early Tang</text>
<text transform="translate(451.30,177.20) rotate(-90)" font-size="9.76" text-anchor="end" fill="#000" stroke="#000" stroke-width="0.320"  textLength="59.11" lengthAdjust="spacingAndGlyphs">Five Dynasty</text>
<text transform="translate(468.52,177.20) rotate(-90)" font-size="9.76" text-anchor="end" fill="#000" stroke="#000" stroke-width="0.320"  textLength="44.41" lengthAdjust="spacingAndGlyphs">Late Tang</text>
<text transform="translate(485.74,177.20) rotate(-90)" font-size="9.76" text-anchor="end" fill="#000" stroke="#000" stroke-width="0.320"  textLength="40.71" lengthAdjust="spacingAndGlyphs">Mid Tang</text>
<text transform="translate(502.97,177.20) rotate(-90)" font-size="9.76" text-anchor="end" fill="#000" stroke="#000" stroke-width="0.320"  textLength="45.48" lengthAdjust="spacingAndGlyphs">North Wei</text>
<text transform="translate(520.19,177.20) rotate(-90)" font-size="9.76" text-anchor="end" fill="#000" stroke="#000" stroke-width="0.320"  textLength="52.31" lengthAdjust="spacingAndGlyphs">North Zhou</text>
<text transform="translate(537.41,177.20) rotate(-90)" font-size="9.76" text-anchor="end" fill="#000" stroke="#000" stroke-width="0.320"  textLength="53.39" lengthAdjust="spacingAndGlyphs">Sheng Tang</text>
<text transform="translate(554.63,177.20) rotate(-90)" font-size="9.76" text-anchor="end" fill="#000" stroke="#000" stroke-width="0.320"  textLength="55.05" lengthAdjust="spacingAndGlyphs">Sui Dynasty</text>
<text transform="translate(571.85,177.20) rotate(-90)" font-size="9.76" text-anchor="end" fill="#000" stroke="#000" stroke-width="0.320"  textLength="53.86" lengthAdjust="spacingAndGlyphs">Westen Wei</text>
<text transform="translate(500.70,9.90)" font-size="11.80" text-anchor="middle" fill="#000" stroke="#000" stroke-width="0.200"  textLength="95.19" lengthAdjust="spacingAndGlyphs">Confusion matrix</text>
<text transform="translate(500.70,247.20)" font-size="9.76" text-anchor="middle" fill="#000" stroke="#000" stroke-width="0.320"  textLength="52.13" lengthAdjust="spacingAndGlyphs">True Labels</text>
<text transform="translate(350.10,92.40) rotate(-90)" font-size="9.76" text-anchor="middle" fill="#000" stroke="#000" stroke-width="0.320"  textLength="75.81" lengthAdjust="spacingAndGlyphs">Predicted Labels</text>
<text x="347.00" y="13.00" font-family="'Liberation Serif', serif" font-size="13.80" fill="#111">(</text>
<text x="355.90" y="13.00" font-family="'Liberation Serif', serif" font-size="13.80" fill="#111">b</text>
<text x="365.90" y="13.00" font-family="'Liberation Serif', serif" font-size="13.80" fill="#111">)</text>
<rect x="592.40" y="15.30" width="8.05" height="154.30" fill="url(#cbg)" stroke="#000" stroke-width="1.15"/>
<line x1="600.45" y1="169.60" x2="603.70" y2="169.60" stroke="#000" stroke-width="1.1"/>
<text transform="translate(606.55,173.84)" font-size="10.13" text-anchor="start" fill="#000" stroke="#000" stroke-width="0.500"  textLength="5.86" lengthAdjust="spacingAndGlyphs">0</text>
<line x1="600.45" y1="143.88" x2="603.70" y2="143.88" stroke="#000" stroke-width="1.1"/>
<text transform="translate(606.55,148.12)" font-size="10.13" text-anchor="start" fill="#000" stroke="#000" stroke-width="0.500"  textLength="11.72" lengthAdjust="spacingAndGlyphs">20</text>
<line x1="600.45" y1="118.17" x2="603.70" y2="118.17" stroke="#000" stroke-width="1.1"/>
<text transform="translate(606.55,122.40)" font-size="10.13" text-anchor="start" fill="#000" stroke="#000" stroke-width="0.500"  textLength="11.72" lengthAdjust="spacingAndGlyphs">40</text>
<line x1="600.45" y1="92.45" x2="603.70" y2="92.45" stroke="#000" stroke-width="1.1"/>
<text transform="translate(606.55,96.69)" font-size="10.13" text-anchor="start" fill="#000" stroke="#000" stroke-width="0.500"  textLength="11.72" lengthAdjust="spacingAndGlyphs">60</text>
<line x1="600.45" y1="66.73" x2="603.70" y2="66.73" stroke="#000" stroke-width="1.1"/>
<text transform="translate(606.55,70.97)" font-size="10.13" text-anchor="start" fill="#000" stroke="#000" stroke-width="0.500"  textLength="11.72" lengthAdjust="spacingAndGlyphs">80</text>
<line x1="600.45" y1="41.02" x2="603.70" y2="41.02" stroke="#000" stroke-width="1.1"/>
<text transform="translate(606.55,45.25)" font-size="10.13" text-anchor="start" fill="#000" stroke="#000" stroke-width="0.500"  textLength="17.58" lengthAdjust="spacingAndGlyphs">100</text>
<line x1="600.45" y1="15.30" x2="603.70" y2="15.30" stroke="#000" stroke-width="1.1"/>
<text transform="translate(606.55,19.54)" font-size="10.13" text-anchor="start" fill="#000" stroke="#000" stroke-width="0.500"  textLength="17.58" lengthAdjust="spacingAndGlyphs">120</text>
<rect x="652.40" y="15.30" width="8.05" height="154.30" fill="url(#cbg)" stroke="#000" stroke-width="1.15"/>
<line x1="660.45" y1="169.60" x2="663.70" y2="169.60" stroke="#000" stroke-width="1.1"/>
<text transform="translate(666.55,173.84)" font-size="10.13" text-anchor="start" fill="#000" stroke="#000" stroke-width="0.500"  textLength="5.86" lengthAdjust="spacingAndGlyphs">0</text>
<line x1="660.45" y1="143.88" x2="663.70" y2="143.88" stroke="#000" stroke-width="1.1"/>
<text transform="translate(666.55,148.12)" font-size="10.13" text-anchor="start" fill="#000" stroke="#000" stroke-width="0.500"  textLength="11.72" lengthAdjust="spacingAndGlyphs">20</text>
<line x1="660.45" y1="118.17" x2="663.70" y2="118.17" stroke="#000" stroke-width="1.1"/>
<text transform="translate(666.55,122.40)" font-size="10.13" text-anchor="start" fill="#000" stroke="#000" stroke-width="0.500"  textLength="11.72" lengthAdjust="spacingAndGlyphs">40</text>
<line x1="660.45" y1="92.45" x2="663.70" y2="92.45" stroke="#000" stroke-width="1.1"/>
<text transform="translate(666.55,96.69)" font-size="10.13" text-anchor="start" fill="#000" stroke="#000" stroke-width="0.500"  textLength="11.72" lengthAdjust="spacingAndGlyphs">60</text>
<line x1="660.45" y1="66.73" x2="663.70" y2="66.73" stroke="#000" stroke-width="1.1"/>
<text transform="translate(666.55,70.97)" font-size="10.13" text-anchor="start" fill="#000" stroke="#000" stroke-width="0.500"  textLength="11.72" lengthAdjust="spacingAndGlyphs">80</text>
<line x1="660.45" y1="41.02" x2="663.70" y2="41.02" stroke="#000" stroke-width="1.1"/>
<text transform="translate(666.55,45.25)" font-size="10.13" text-anchor="start" fill="#000" stroke="#000" stroke-width="0.500"  textLength="17.58" lengthAdjust="spacingAndGlyphs">100</text>
<line x1="660.45" y1="15.30" x2="663.70" y2="15.30" stroke="#000" stroke-width="1.1"/>
<text transform="translate(666.55,19.54)" font-size="10.13" text-anchor="start" fill="#000" stroke="#000" stroke-width="0.500"  textLength="17.58" lengthAdjust="spacingAndGlyphs">120</text>
</svg>
</body></html>
